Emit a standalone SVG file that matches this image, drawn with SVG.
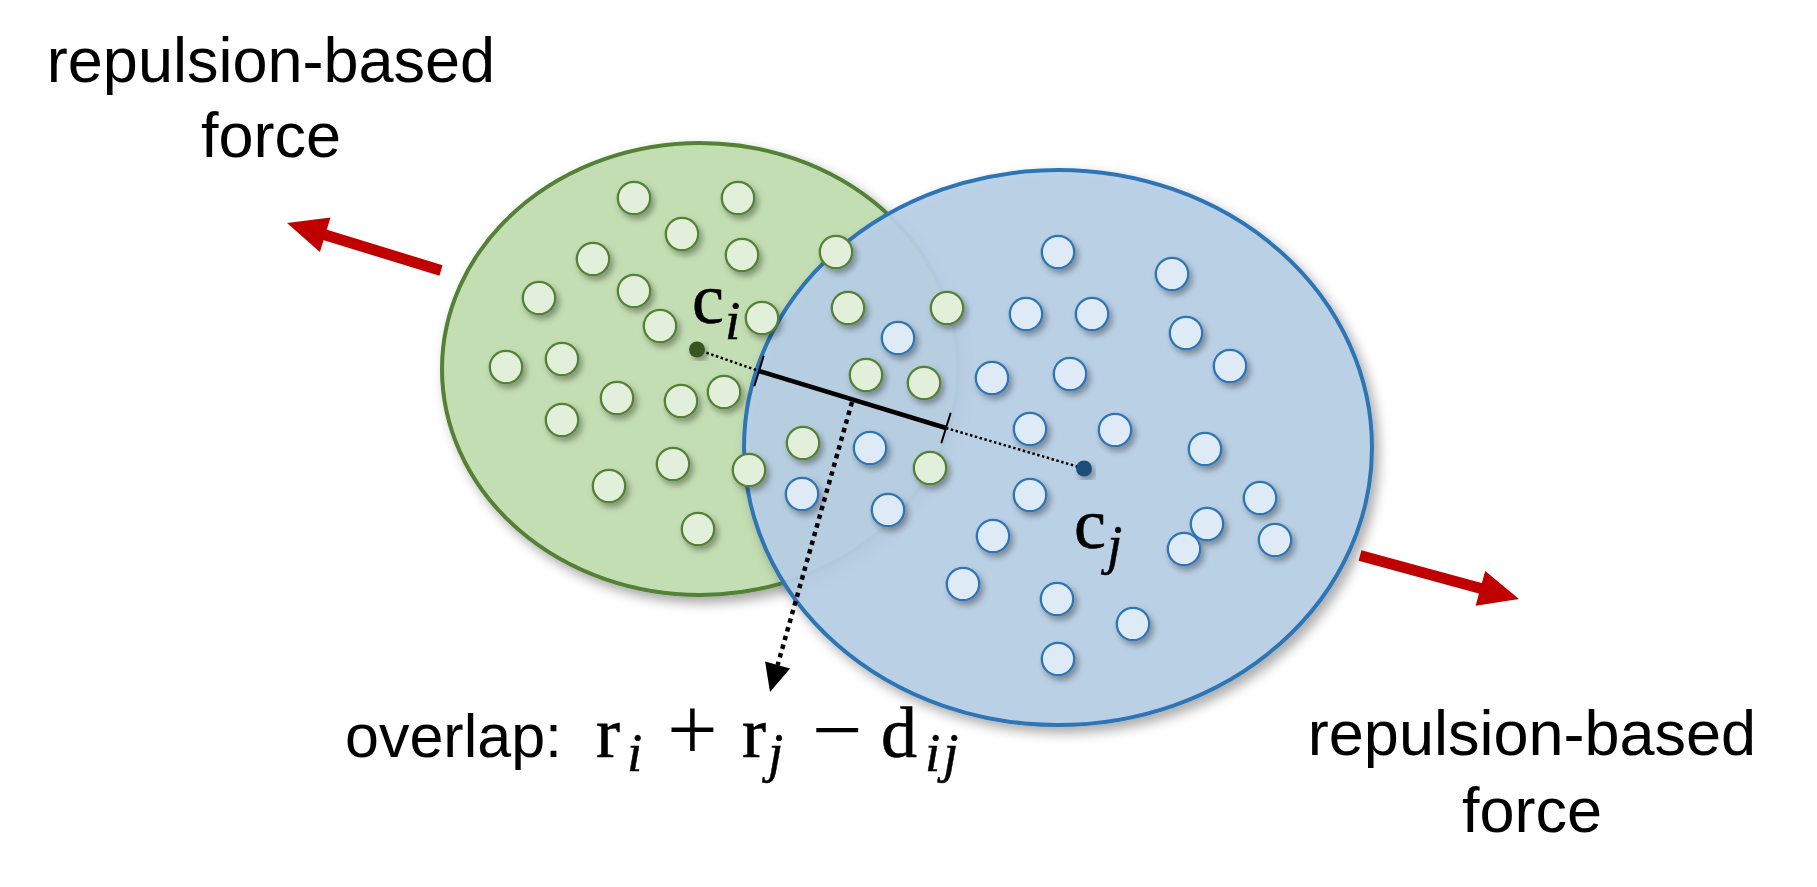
<svg xmlns="http://www.w3.org/2000/svg" width="1817" height="887" viewBox="0 0 1817 887">
<defs>
<style>
.lbl{font-family:"Liberation Sans",Arial,sans-serif;font-size:63px;fill:#000;text-anchor:middle}
.math{font-family:"Liberation Serif","Times New Roman",serif;font-size:72px;fill:#000;stroke:#000;stroke-width:0.6}
.op{font-family:"Liberation Serif","Times New Roman",serif;font-size:90px;fill:#000;text-anchor:middle}
.sub{font-family:"Liberation Serif","Times New Roman",serif;font-size:55px;font-style:italic;fill:#000;stroke:#000;stroke-width:0.5}
.gp{fill:#E2EFDA;stroke:#538135;stroke-width:2.3}
.bp{fill:#DEEBF7;stroke:#2E75B6;stroke-width:2.3}
.force{stroke:#C00000;stroke-width:11;fill:none}
.head{fill:#C00000}
</style>
<filter id="sh" x="-20%" y="-20%" width="140%" height="140%">
<feDropShadow dx="3" dy="4" stdDeviation="3.2" flood-color="#000" flood-opacity="0.35"/>
</filter>
<filter id="shBig" x="-10%" y="-10%" width="125%" height="125%">
<feDropShadow dx="5" dy="6" stdDeviation="6" flood-color="#000" flood-opacity="0.35"/>
</filter>
</defs>
<rect width="1817" height="887" fill="#fff"/>

<g id="label-force-left">
<text class="lbl" x="271" y="82">repulsion-based</text>
<text class="lbl" x="271" y="157">force</text>
</g>
<g id="label-force-right">
<text class="lbl" x="1532" y="755">repulsion-based</text>
<text class="lbl" x="1532" y="832">force</text>
</g>

<g id="cluster-i">
<ellipse cx="700" cy="369" rx="258" ry="226" fill="#C4DEB3" stroke="#538135" stroke-width="4" filter="url(#shBig)"/>
</g>
<g id="cluster-j">
<ellipse cx="1058" cy="447.5" rx="314" ry="277.5" fill="#B8CFE6" fill-opacity="0.92" stroke="#2E75B6" stroke-width="4" filter="url(#shBig)"/>
</g>

<g id="points-i" filter="url(#sh)">
<circle class="gp" cx="634" cy="198" r="16.2"/>
<circle class="gp" cx="738" cy="198" r="16.2"/>
<circle class="gp" cx="682" cy="234" r="16.2"/>
<circle class="gp" cx="742" cy="255" r="16.2"/>
<circle class="gp" cx="593" cy="259" r="16.2"/>
<circle class="gp" cx="634" cy="291" r="16.2"/>
<circle class="gp" cx="539" cy="298" r="16.2"/>
<circle class="gp" cx="836" cy="252" r="16.2"/>
<circle class="gp" cx="660" cy="326" r="16.2"/>
<circle class="gp" cx="762" cy="318" r="16.2"/>
<circle class="gp" cx="848" cy="308" r="16.2"/>
<circle class="gp" cx="562" cy="359" r="16.2"/>
<circle class="gp" cx="506" cy="367" r="16.2"/>
<circle class="gp" cx="724" cy="392" r="16.2"/>
<circle class="gp" cx="617" cy="398" r="16.2"/>
<circle class="gp" cx="681" cy="401" r="16.2"/>
<circle class="gp" cx="866" cy="375" r="16.2"/>
<circle class="gp" cx="562" cy="420" r="16.2"/>
<circle class="gp" cx="803" cy="443" r="16.2"/>
<circle class="gp" cx="673" cy="464" r="16.2"/>
<circle class="gp" cx="749" cy="470" r="16.2"/>
<circle class="gp" cx="609" cy="486" r="16.2"/>
<circle class="gp" cx="698" cy="529" r="16.2"/>
<circle class="gp" cx="947" cy="308" r="16.2"/>
<circle class="gp" cx="924" cy="383" r="16.2"/>
<circle class="gp" cx="930" cy="468" r="16.2"/>
</g>

<g id="points-j" filter="url(#sh)">
<circle class="bp" cx="1058" cy="252" r="16.2"/>
<circle class="bp" cx="1172" cy="274" r="16.2"/>
<circle class="bp" cx="1026" cy="314" r="16.2"/>
<circle class="bp" cx="1092" cy="314" r="16.2"/>
<circle class="bp" cx="1186" cy="333" r="16.2"/>
<circle class="bp" cx="1230" cy="366" r="16.2"/>
<circle class="bp" cx="1070" cy="374" r="16.2"/>
<circle class="bp" cx="992" cy="378" r="16.2"/>
<circle class="bp" cx="898" cy="338" r="16.2"/>
<circle class="bp" cx="1030" cy="429" r="16.2"/>
<circle class="bp" cx="1115" cy="430" r="16.2"/>
<circle class="bp" cx="1205" cy="449" r="16.2"/>
<circle class="bp" cx="870" cy="448" r="16.2"/>
<circle class="bp" cx="802" cy="494" r="16.2"/>
<circle class="bp" cx="888" cy="510" r="16.2"/>
<circle class="bp" cx="1030" cy="495" r="16.2"/>
<circle class="bp" cx="1260" cy="498" r="16.2"/>
<circle class="bp" cx="1207" cy="524" r="16.2"/>
<circle class="bp" cx="993" cy="536" r="16.2"/>
<circle class="bp" cx="1275" cy="540" r="16.2"/>
<circle class="bp" cx="1184" cy="549" r="16.2"/>
<circle class="bp" cx="963" cy="584" r="16.2"/>
<circle class="bp" cx="1057" cy="599" r="16.2"/>
<circle class="bp" cx="1133" cy="624" r="16.2"/>
<circle class="bp" cx="1058" cy="659" r="16.2"/>
</g>

<g id="connectors">
<line class="force" x1="441" y1="270.5" x2="323" y2="234.2"/>
<polygon class="head" points="287,223 330.5,217.6 319.9,252"/>
<line class="force" x1="1360" y1="555.5" x2="1482" y2="588.8"/>
<polygon class="head" points="1519,599 1475.6,605.8 1485.2,571"/>
<line x1="697" y1="349.5" x2="759" y2="371" stroke="#000" stroke-width="2.5" stroke-dasharray="2.5 2.5"/>
<line x1="946" y1="428" x2="1084" y2="468.5" stroke="#000" stroke-width="2.5" stroke-dasharray="2.5 2.5"/>
<line x1="759" y1="371" x2="946" y2="428" stroke="#000" stroke-width="4.5"/>
<line x1="763.7" y1="355.7" x2="754.3" y2="386.3" stroke="#000" stroke-width="2"/>
<line x1="950.7" y1="412.7" x2="941.3" y2="443.3" stroke="#000" stroke-width="2"/>
<line x1="852" y1="402" x2="777.6" y2="665.1" stroke="#000" stroke-width="4.5" stroke-dasharray="4.5 4.5"/>
<polygon points="770,692 790.1,668.6 765.1,661.6" fill="#000"/>
</g>

<g id="center-i">
<circle cx="697" cy="349.5" r="8" fill="#375623" filter="url(#sh)"/>
<text class="math" x="692" y="323" font-size="70">c</text>
<text class="sub" x="725" y="339">i</text>
</g>
<g id="center-j">
<circle cx="1084" cy="468.5" r="8" fill="#1F4E79" filter="url(#sh)"/>
<text class="math" x="1074" y="548" font-size="70">c</text>
<text class="sub" x="1107" y="563">j</text>
</g>

<g id="label-overlap">
<text x="345" y="757" style="font-family:'Liberation Sans',Arial,sans-serif;font-size:61px;fill:#000">overlap:</text>
<text class="math" x="596" y="757">r</text>
<text class="sub" x="627" y="771">i</text>
<text class="op" x="692.5" y="760">+</text>
<text class="math" x="742" y="757">r</text>
<text class="sub" x="768" y="771">j</text>
<text class="op" x="837.5" y="760">−</text>
<text class="math" x="881" y="757">d</text>
<text class="sub" x="925" y="771" letter-spacing="3">ij</text>
</g>
</svg>
